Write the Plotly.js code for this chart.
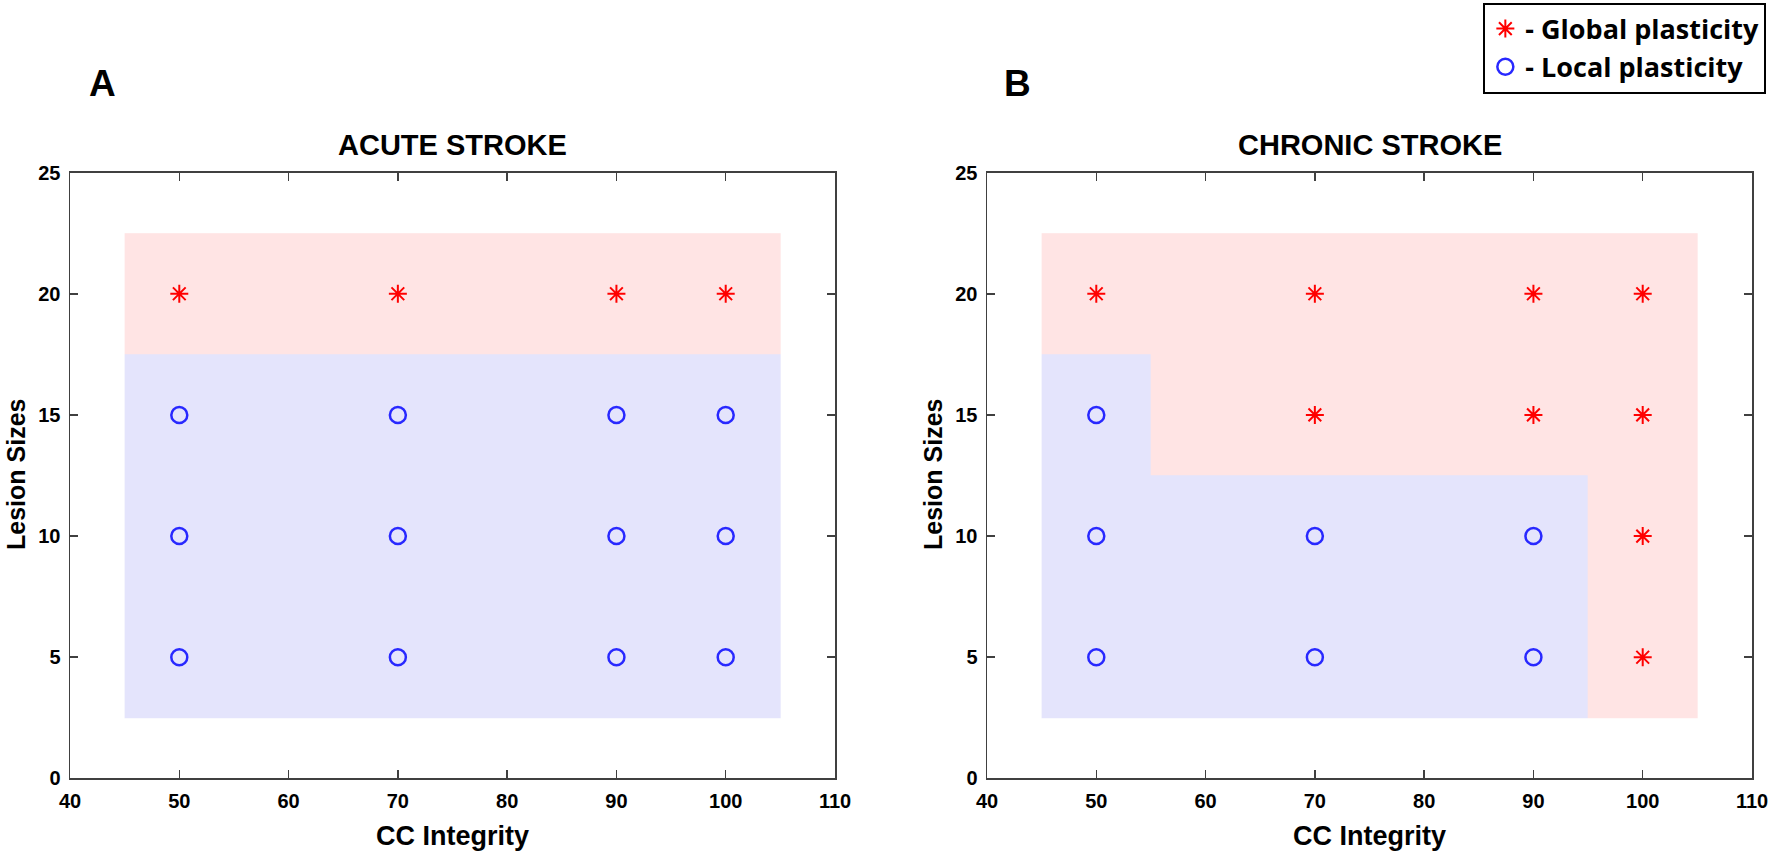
<!DOCTYPE html>
<html>
<head>
<meta charset="utf-8">
<script src="https://cdn.plot.ly/plotly-3.0.1.min.js"></script>
<style>html,body{margin:0;padding:0;background:#fff;}#chart{width:1769px;height:858px;}</style>
</head>
<body>
<div id="chart"></div>
<script>
// ---- data ----
const ccIntegrity = [50, 70, 90, 100];
const lesionSizes = [5, 10, 15, 20];
// class per (lesion size row, cc integrity column): "G" global, "L" local
const acuteClass = [
  ["L", "L", "L", "L"],
  ["L", "L", "L", "L"],
  ["L", "L", "L", "L"],
  ["G", "G", "G", "G"]
];
const chronicClass = [
  ["L", "L", "L", "G"],
  ["L", "L", "L", "G"],
  ["L", "G", "G", "G"],
  ["G", "G", "G", "G"]
];
// region boundaries (cell edges in data units)
const regionXEdges = [45, 55, 80, 95, 105];
const regionYEdges = [2.5, 7.5, 12.5, 17.5, 22.5];
// region class per cell (rows: y cells, cols: x cells); 1 = global, 0 = local
const acuteRegion = [
  [0, 0, 0, 0],
  [0, 0, 0, 0],
  [0, 0, 0, 0],
  [1, 1, 1, 1]
];
const chronicRegion = [
  [0, 0, 0, 1],
  [0, 0, 0, 1],
  [0, 1, 1, 1],
  [1, 1, 1, 1]
];
const xTicks = [40, 50, 60, 70, 80, 90, 100, 110];
const yTicks = [0, 5, 10, 15, 20, 25];
const panelTitles = ["ACUTE STROKE", "CHRONIC STROKE"];
const panelLetters = ["A", "B"];
const xTitle = "CC Integrity";
const yTitle = "Lesion Sizes";
const legendNames = ["- Global plasticity", "- Local plasticity"];

// ---- build ----
function pts(cls, want) {
  const x = [], y = [];
  cls.forEach((row, i) => row.forEach((c, j) => {
    if (c === want) { x.push(ccIntegrity[j]); y.push(lesionSizes[i]); }
  }));
  return {x, y};
}
const pink = 'rgb(255,228,228)', blue = 'rgb(228,228,252)';
const traces = [];
[[acuteRegion, 'x', 'y'], [chronicRegion, 'x2', 'y2']].forEach(([z, xa, ya]) => {
  traces.push({
    type: 'heatmap', x: regionXEdges, y: regionYEdges, z: z,
    xaxis: xa, yaxis: ya, zmin: 0, zmax: 1, showscale: false, hoverinfo: 'skip',
    colorscale: [[0, blue], [1, pink]], zsmooth: false
  });
});
[[acuteClass, 'x', 'y', true], [chronicClass, 'x2', 'y2', false]].forEach(([cls, xa, ya, showL]) => {
  const g = pts(cls, 'G'), l = pts(cls, 'L');
  traces.push({
    type: 'scatter', mode: 'markers', x: g.x, y: g.y, xaxis: xa, yaxis: ya,
    name: legendNames[0], showlegend: showL, legendrank: 1,
    marker: {symbol: 'asterisk-open', size: 15, color: 'rgb(255,0,0)', line: {color: 'rgb(255,0,0)', width: 2}}
  });
  traces.push({
    type: 'scatter', mode: 'markers', x: l.x, y: l.y, xaxis: xa, yaxis: ya,
    name: legendNames[1], showlegend: showL, legendrank: 2,
    marker: {symbol: 'circle-open', size: 16, color: 'rgb(40,40,255)', line: {color: 'rgb(40,40,255)', width: 2.5}}
  });
});

const sans = '"Liberation Sans", Arial, sans-serif';
const tickFont = {family: sans, size: 20, color: '#000', weight: 'bold'};
function xAxis(dom) {
  return {
    domain: dom, range: [40, 110], tickvals: xTicks, ticktext: xTicks.map(String),
    ticks: 'inside', ticklen: 8, tickwidth: 1.5, tickcolor: '#404040', mirror: 'ticks',
    showline: true, linecolor: '#404040', linewidth: 1.5, showgrid: false, zeroline: false,
    tickfont: tickFont, ticklabelstandoff: 4, fixedrange: true
  };
}
function yAxis(anchor) {
  return {
    domain: [0.0928, 0.7988], range: [0, 25], tickvals: yTicks, ticktext: yTicks.map(String),
    ticks: 'inside', ticklen: 8, tickwidth: 1.5, tickcolor: '#404040', mirror: 'ticks',
    showline: true, linecolor: '#404040', linewidth: 1.5, showgrid: false, zeroline: false,
    tickfont: tickFont, ticklabelstandoff: 4, anchor: anchor, fixedrange: true
  };
}
const W = 1769, H = 858;
const xd1 = [70 / W, 835 / W], xd2 = [987 / W, 1752 / W];
function ann(text, xpx, ypx, size, angle) {
  return {text: text, xref: 'paper', yref: 'paper', x: xpx / W, y: 1 - ypx / H,
    xanchor: 'center', yanchor: 'middle', showarrow: false, textangle: angle || 0,
    font: {family: sans, size: size, color: '#000', weight: 'bold'}};
}
const annotations = [];
[xd1, xd2].forEach((d, i) => {
  const cx = (d[0] + d[1]) / 2 * W;
  annotations.push(ann(panelTitles[i], cx, 145, 29));
  annotations.push(ann(xTitle, cx, 836, 27));
  annotations.push(ann(yTitle, d[0] * W - 54, 475, 25, -90));
});
annotations.push(ann(panelLetters[0], 102, 83, 37));
annotations.push(ann(panelLetters[1], 1017, 83, 37));

const layout = {
  width: W, height: H,
  margin: {l: 0, r: 0, t: 0, b: 0},
  paper_bgcolor: '#fff', plot_bgcolor: '#fff',
  showlegend: true,
  xaxis: Object.assign(xAxis(xd1), {anchor: 'y'}),
  yaxis: yAxis('x'),
  xaxis2: Object.assign(xAxis(xd2), {anchor: 'y2'}),
  yaxis2: yAxis('x2'),
  legend: {
    x: 0.9985, y: 0.997, xanchor: 'right', yanchor: 'top',
    bordercolor: '#000', borderwidth: 2, bgcolor: '#fff',
    font: {family: '"Open Sans", "Liberation Sans", sans-serif', size: 27, color: '#000', weight: 'bold'},
    itemwidth: 30, tracegroupgap: 2
  },
  annotations: annotations
};
Plotly.newPlot('chart', traces, layout, {displayModeBar: false, staticPlot: true});
</script>
</body>
</html>
